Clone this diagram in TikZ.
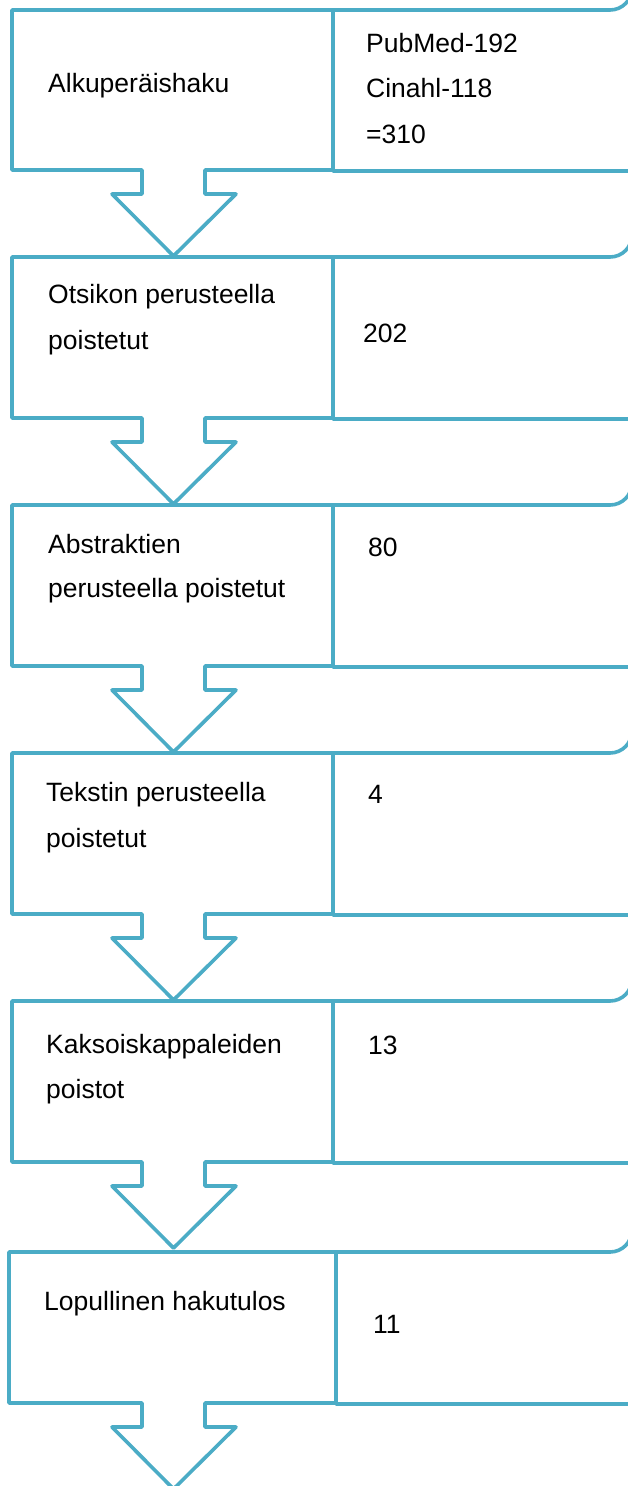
\documentclass[tikz,border=0pt]{standalone}
\usepackage{fontspec}
\setmainfont{Liberation Sans}
\definecolor{aqua}{HTML}{4BACC6}
\tikzset{
  outline/.style={draw=aqua, line width=3.6pt, line join=round, line cap=round},
  lbl/.style={anchor=base west, inner sep=0pt, font=\fontsize{26.5}{32}\selectfont, text=black}
}
% #1 top, #2 bottom, #3 left, #4 divider
\newcommand\flowrow[4]{%
  \draw[outline] (#3,#1) -- (#4,#1) -- (#4,#2) -- (205,#2) -- (205,{#2+24}) -- (236,{#2+24})
    -- (173.5,{#2+86}) -- (112,{#2+24}) -- (142,{#2+24}) -- (142,#2) -- (#3,#2) -- cycle;
  \draw[outline] (#4,#1) -- (610,#1) arc[start angle=90, end angle=0, radius=22] -- (632,{#2+1}) -- (#4,{#2+1});
}
\begin{document}
\begin{tikzpicture}[x=1pt, y=-1pt]
\useasboundingbox (0,0) rectangle (628,1486);
\fill[white] (0,0) rectangle (628,1486);
\clip (0,0) rectangle (628,1486);

\flowrow{10}{170}{12}{333}
\flowrow{257}{418}{12}{333}
\flowrow{505}{666}{12}{333}
\flowrow{753}{914}{12}{333}
\flowrow{1001}{1162}{12}{333}
\flowrow{1252}{1403}{9}{336}

\node[lbl] (a1) at (48,92) {Alkuperäishaku};
\node[lbl] (b1a) at (366,52) {PubMed-192};
\node[lbl] (b1b) at (366,97) {Cinahl-118};
\node[lbl] (b1c) at (366,143) {=310};

\node[lbl] (a2a) at (48,303) {Otsikon perusteella};
\node[lbl] (a2b) at (48,349) {poistetut};
\node[lbl] (b2) at (363,342) {202};

\node[lbl] (a3a) at (48,553) {Abstraktien};
\node[lbl] (a3b) at (48,597) {perusteella poistetut};
\node[lbl] (b3) at (368,556) {80};

\node[lbl] (a4a) at (46,801) {Tekstin perusteella};
\node[lbl] (a4b) at (46,847) {poistetut};
\node[lbl] (b4) at (368,803) {4};

\node[lbl] (a5a) at (46,1053) {Kaksoiskappaleiden};
\node[lbl] (a5b) at (46,1098) {poistot};
\node[lbl] (b5) at (368,1054) {13};

\node[lbl] (a6) at (44,1310) {Lopullinen hakutulos};
\node[lbl] (b6) at (373,1333) {11};
\end{tikzpicture}
\end{document}
